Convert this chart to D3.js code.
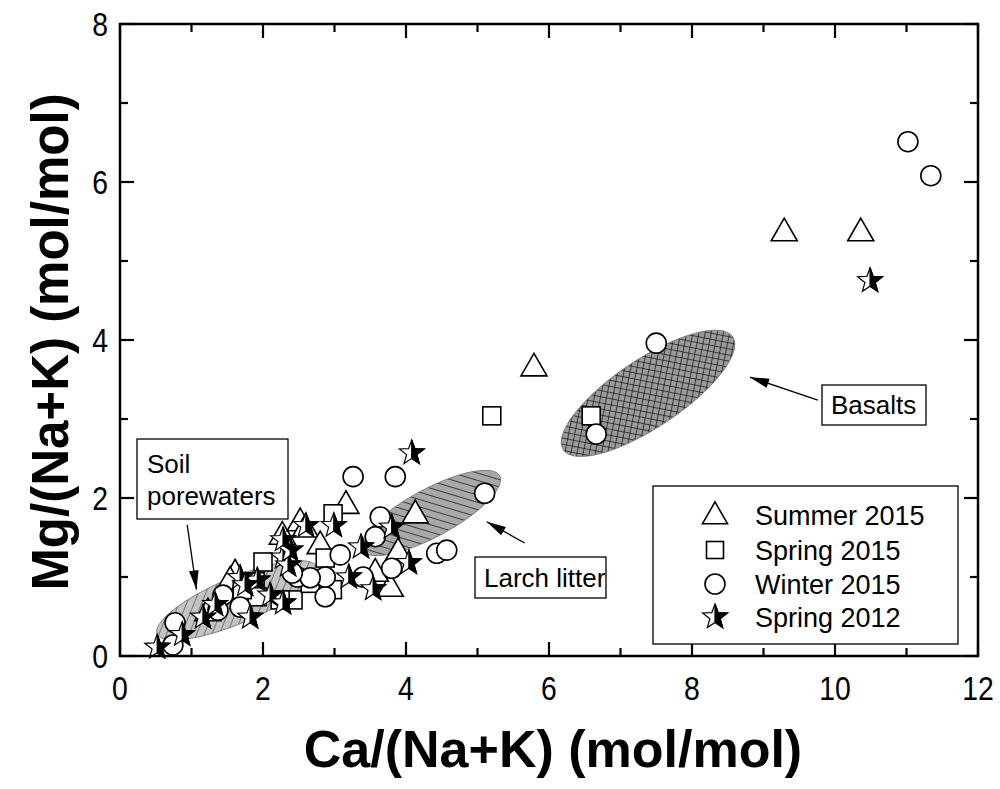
<!DOCTYPE html>
<html><head><meta charset="utf-8">
<script src="https://cdn.jsdelivr.net/npm/d3@7"></script>
<style>body{margin:0;background:#fff;} svg{display:block;}</style>
</head><body>
<script>
// ---- data ----
const summer2015 = [[9.29,5.37],[10.36,5.37],[5.79,3.66],[4.13,1.80],[3.16,1.92],[2.27,1.53],[3.78,0.87],[3.57,1.06],[3.89,1.32],[2.52,1.70],[2.59,1.62],[1.61,1.05],[1.54,0.96],[2.80,1.41],[1.23,0.56]];
const spring2015 = [[5.20,3.04],[6.59,3.04],[2.98,1.80],[2.87,1.24],[2.97,0.84],[2.00,1.19],[1.89,0.94],[2.42,0.71],[2.24,0.71],[1.92,0.75],[2.66,0.92],[1.71,0.84]];
const winter2015 = [[11.02,6.51],[11.34,6.08],[7.50,3.96],[6.66,2.81],[5.10,2.06],[3.26,2.27],[3.85,2.27],[3.64,1.76],[3.57,1.51],[3.08,1.28],[3.40,1.00],[3.80,1.11],[4.43,1.30],[4.57,1.34],[2.87,0.75],[2.87,1.00],[2.48,1.00],[2.66,0.99],[2.41,1.05],[1.44,0.77],[1.68,0.62],[1.37,0.58],[0.77,0.42],[0.74,0.14]];
const spring2012 = [[10.49,4.75],[4.08,2.57],[2.60,1.65],[2.99,1.65],[3.37,1.38],[4.04,1.18],[3.20,1.00],[3.54,0.85],[3.80,1.63],[2.28,1.25],[2.35,1.15],[1.92,0.96],[2.10,0.77],[1.68,0.99],[2.38,1.34],[1.16,0.49],[0.87,0.27],[0.52,0.11],[1.82,0.49],[2.28,0.67],[1.33,0.65],[2.28,1.47],[1.75,0.90]];
const seriesNames = ["Summer 2015","Spring 2015","Winter 2015","Spring 2012"];
const xTicks = [0,2,4,6,8,10,12];
const yTicks = [0,2,4,6,8];
// ellipses: major-axis endpoints in data units
const zoneNames = ["Soil porewaters","Larch litter","Basalts"];
const zoneEnds = [[[0.52,0.28],[2.75,1.13]],[[3.38,1.34],[5.31,2.28]],[[6.20,2.61],[8.57,4.04]]];
// arrows (tail -> tip) in data units
const zoneArrows = [[[0.94,1.66],[1.07,0.84]],[[5.66,1.43],[5.13,1.70]],[[9.76,3.24],[8.81,3.53]]];

// ---- layout ----
const W=1000,H=789;
const m={l:120,r:22,t:24,b:133};
const svg=d3.select("body").append("svg").attr("width",W).attr("height",H);
const x=d3.scaleLinear().domain([0,12]).range([m.l,W-m.r]);
const y=d3.scaleLinear().domain([0,8]).range([H-m.b,m.t]);
const FONT="Liberation Sans, Arial, sans-serif";

const defs=svg.append("defs");
let p=defs.append("pattern").attr("id","pSoil").attr("patternUnits","userSpaceOnUse").attr("width",7).attr("height",7).attr("patternTransform","rotate(45)");
p.append("rect").attr("width",7).attr("height",7).attr("fill","#c4c4c4");
p.append("line").attr("x1",0).attr("y1",0).attr("x2",0).attr("y2",7).attr("stroke","#333").attr("stroke-width",1.1);
p=defs.append("pattern").attr("id","pLarch").attr("patternUnits","userSpaceOnUse").attr("width",7).attr("height",7).attr("patternTransform","rotate(-45)");
p.append("rect").attr("width",7).attr("height",7).attr("fill","#a8a8a8");
p.append("line").attr("x1",0).attr("y1",0).attr("x2",0).attr("y2",7).attr("stroke","#222").attr("stroke-width",1.6);
p=defs.append("pattern").attr("id","pBas").attr("patternUnits","userSpaceOnUse").attr("width",6).attr("height",6).attr("patternTransform","rotate(45)");
p.append("rect").attr("width",6).attr("height",6).attr("fill","#9a9a9a");
p.append("line").attr("x1",0).attr("y1",0).attr("x2",0).attr("y2",6).attr("stroke","#111").attr("stroke-width",1.4);
p.append("line").attr("x1",0).attr("y1",0).attr("x2",6).attr("y2",0).attr("stroke","#111").attr("stroke-width",1.4);
defs.append("marker").attr("id","arr").attr("viewBox","0 0 16 10").attr("refX",16).attr("refY",5)
  .attr("markerWidth",20).attr("markerHeight",12).attr("markerUnits","userSpaceOnUse").attr("orient","auto")
  .append("path").attr("d","M0,1 L16,5 L0,9 Z").attr("fill","#000");

// ---- ellipses ----
const fills=["url(#pSoil)","url(#pLarch)","url(#pBas)"];
const minor=[23,24,34];
zoneEnds.forEach((e,i)=>{
  const x1=x(e[0][0]),y1=y(e[0][1]),x2=x(e[1][0]),y2=y(e[1][1]);
  const cx=(x1+x2)/2, cy=(y1+y2)/2, a=Math.hypot(x2-x1,y2-y1)/2;
  const ang=Math.atan2(y2-y1,x2-x1)*180/Math.PI;
  svg.append("ellipse").attr("cx",cx).attr("cy",cy).attr("rx",a).attr("ry",minor[i])
    .attr("transform",`rotate(${ang},${cx},${cy})`).attr("fill",fills[i]).attr("stroke","#777").attr("stroke-width",0.8);
});

// ---- markers ----
const g=svg.append("g");
function tri(s){const h=s*0.87;return `M0,${-h*0.6}L${s/2},${h*0.4}L${-s/2},${h*0.4}Z`;}
function starPts(R,r){const pts=[];for(let k=0;k<10;k++){const a=-Math.PI/2+k*Math.PI/5;const rr=k%2?r:R;pts.push([rr*Math.cos(a),rr*Math.sin(a)]);}return pts;}
const SP=starPts(13,5.4);
const starFull="M"+SP.map(d=>d.join(",")).join("L")+"Z";
const starHalf="M"+SP.slice(0,6).map(d=>d.join(",")).join("L")+"Z";
function drawTri(sel,px,py,s){sel.append("path").attr("d",tri(s)).attr("transform",`translate(${px},${py})`).attr("fill","#fff").attr("stroke","#000").attr("stroke-width",1.6);}
function drawSq(sel,px,py,s){sel.append("rect").attr("x",px-s/2).attr("y",py-s/2).attr("width",s).attr("height",s).attr("fill","#fff").attr("stroke","#000").attr("stroke-width",1.6);}
function drawCirc(sel,px,py,r){sel.append("circle").attr("cx",px).attr("cy",py).attr("r",r).attr("fill","#fff").attr("stroke","#000").attr("stroke-width",1.6);}
function drawStar(sel,px,py){const t=`translate(${px},${py})`;
  sel.append("path").attr("d",starFull).attr("transform",t).attr("fill","#fff").attr("stroke","#000").attr("stroke-width",1.2);
  sel.append("path").attr("d",starHalf).attr("transform",t).attr("fill","#000").attr("stroke","#000").attr("stroke-width",1.2);}
summer2015.forEach(d=>drawTri(g,x(d[0]),y(d[1]),26));
spring2015.forEach(d=>drawSq(g,x(d[0]),y(d[1]),18));
winter2015.forEach(d=>drawCirc(g,x(d[0]),y(d[1]),10));
spring2012.forEach(d=>drawStar(g,x(d[0]),y(d[1])));

// ---- axes frame ----
const ax=svg.append("g");
const x0=x(0),x1=x(12),y0=y(0),y1=y(8);
ax.append("rect").attr("x",x0).attr("y",y1).attr("width",x1-x0).attr("height",y0-y1).attr("fill","none").attr("stroke","#000").attr("stroke-width",2.5);
d3.range(0,12.01,1).forEach(v=>{const L=(v%2===0)?14:8;
  ax.append("line").attr("x1",x(v)).attr("x2",x(v)).attr("y1",y0).attr("y2",y0-L).attr("stroke","#000").attr("stroke-width",2.2);
  ax.append("line").attr("x1",x(v)).attr("x2",x(v)).attr("y1",y1).attr("y2",y1+L).attr("stroke","#000").attr("stroke-width",2.2);});
d3.range(0,8.01,1).forEach(v=>{const L=(v%2===0)?14:8;
  ax.append("line").attr("y1",y(v)).attr("y2",y(v)).attr("x1",x0).attr("x2",x0+L).attr("stroke","#000").attr("stroke-width",2.2);
  ax.append("line").attr("y1",y(v)).attr("y2",y(v)).attr("x1",x1).attr("x2",x1-L).attr("stroke","#000").attr("stroke-width",2.2);});
const SX=0.86;
xTicks.forEach(v=>ax.append("text").attr("transform",`translate(${x(v)},${y0+44}) scale(${SX},1)`).attr("text-anchor","middle").attr("font-family",FONT).attr("font-size",33).text(v));
yTicks.forEach(v=>ax.append("text").attr("transform",`translate(${x0-12},${y(v)+12}) scale(${SX},1)`).attr("text-anchor","end").attr("font-family",FONT).attr("font-size",33).text(v));
svg.append("text").attr("x",(x0+x1)/2+4).attr("y",767).attr("text-anchor","middle").attr("font-family",FONT).attr("font-weight","bold").attr("font-size",52).text("Ca/(Na+K) (mol/mol)");
svg.append("text").attr("transform",`translate(68,${(y0+y1)/2+2}) rotate(-90)`).attr("text-anchor","middle").attr("font-family",FONT).attr("font-weight","bold").attr("font-size",51).text("Mg/(Na+K) (mol/mol)");

// ---- annotations ----
const an=svg.append("g");
zoneArrows.forEach(a=>an.append("line").attr("x1",x(a[0][0])).attr("y1",y(a[0][1])).attr("x2",x(a[1][0])).attr("y2",y(a[1][1])).attr("stroke","#000").attr("stroke-width",1.3).attr("marker-end","url(#arr)"));
function box(bx,by,bw,bh){an.append("rect").attr("x",bx).attr("y",by).attr("width",bw).attr("height",bh).attr("fill","#fff").attr("stroke","#000").attr("stroke-width",1.3);}
box(137,439,151,80);
an.append("text").attr("x",147).attr("y",473).attr("font-family",FONT).attr("font-size",26).text("Soil");
an.append("text").attr("x",147).attr("y",505).attr("font-family",FONT).attr("font-size",26).text("porewaters");
box(475,557,131,41);
an.append("text").attr("x",484).attr("y",587).attr("font-family",FONT).attr("font-size",26).text("Larch litter");
box(822,385,104,40);
an.append("text").attr("x",831).attr("y",414).attr("font-family",FONT).attr("font-size",26).text("Basalts");

// ---- legend ----
const lg=svg.append("g");
lg.append("rect").attr("x",653).attr("y",486).attr("width",305).attr("height",158).attr("fill","#fff").attr("stroke","#000").attr("stroke-width",1.3);
const ly=[515,550,584,617], lx=715;
drawTri(lg,lx,ly[0],25); drawSq(lg,lx,ly[1],17); drawCirc(lg,lx,ly[2],10); drawStar(lg,lx,ly[3]);
seriesNames.forEach((s,i)=>lg.append("text").attr("x",755).attr("y",ly[i]+10).attr("font-family",FONT).attr("font-size",27).text(s));
</script>
</body></html>
